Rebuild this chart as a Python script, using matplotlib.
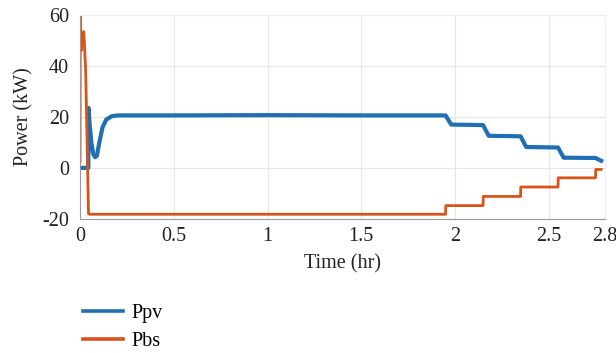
import matplotlib.pyplot as plt

# Ppv (kW) vs time (hr)
t_pv = [0, 0.044, 0.045, 0.05, 0.06, 0.07, 0.08, 0.09, 0.10, 0.12, 0.14, 0.17, 0.2,
        0.5, 1.0, 1.5, 1.95, 1.98, 2.15, 2.18, 2.35, 2.38, 2.55, 2.58, 2.75, 2.78]
p_pv = [0, 0, 23.5, 18, 10, 5.5, 4.2, 4.8, 9, 16, 19, 20.3, 20.6,
        20.6, 20.7, 20.6, 20.6, 17.0, 16.8, 12.6, 12.4, 8.2, 8.0, 4.0, 3.9, 2.8]

# Pbs (kW) vs time (hr)
t_bs = [0, 0.0008, 0.006, 0.012, 0.02, 0.03, 0.045, 0.05, 1.0, 1.95, 1.951,
        2.15, 2.151, 2.35, 2.351, 2.55, 2.551, 2.75, 2.751, 2.78]
p_bs = [2.5, 62, 46, 52, 53.5, 38, -18, -18.2, -18.2, -18.2, -14.8,
        -14.8, -11.2, -11.2, -7.5, -7.5, -3.9, -3.9, -0.6, -0.6]

xticks = [0, 0.5, 1, 1.5, 2, 2.5, 2.8]
xticklabels = ["0", "0.5", "1", "1.5", "2", "2.5", "2.8"]
yticks = [-20, 0, 20, 40, 60]
yticklabels = ["-20", "0", "20", "40", "60"]


def main():
    plt.rcParams['font.family'] = ['Liberation Serif', 'DejaVu Serif']
    fig = plt.figure(figsize=(6.16, 3.53), dpi=100)
    ax = fig.add_axes([0.13, 0.38, 0.852, 0.5775])

    ax.plot(t_pv, p_pv, color="#1f6fb4", lw=3.0, label="Ppv")
    ax.plot(t_bs, p_bs, color="#d95319", lw=2.0, label="Pbs")

    ax.set_xlim(0, 2.8)
    ax.set_ylim(-20, 60)
    ax.set_xticks(xticks)
    ax.set_xticklabels(xticklabels)
    ax.set_yticks(yticks)
    ax.set_yticklabels(yticklabels)
    ax.tick_params(labelsize=14.5, length=0, colors="#222222")
    ax.tick_params(axis="x", pad=6)
    ax.tick_params(axis="y", pad=8)
    ax.grid(True, color="#e6e6e6", lw=0.8)
    ax.set_axisbelow(True)
    for s in ["top", "right"]:
        ax.spines[s].set_color("#eeeeee")
    for s in ["left", "bottom"]:
        ax.spines[s].set_color("#999999")

    ax.set_xlabel("Time (hr)", fontsize=14.5, color="#222222", labelpad=6)
    ax.set_ylabel("Power (kW)", fontsize=14.5, color="#222222", labelpad=6)

    leg = ax.legend(loc="upper left", bbox_to_anchor=(0.105, 0.19), bbox_transform=fig.transFigure,
                    frameon=False, fontsize=14.5, handlelength=2.0, handletextpad=0.4,
                    labelspacing=0.45)
    for line in leg.get_lines():
        line.set_linewidth(2.6)

    plt.savefig("out.png", dpi=100)


if __name__ == "__main__":
    main()
